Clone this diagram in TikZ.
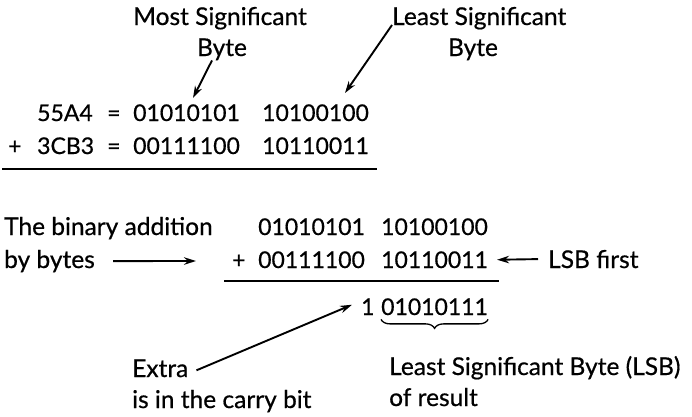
\documentclass[tikz,border=0pt]{standalone}
\usepackage{fontspec}
\setmainfont{Lato}[FakeBold=0.6]
\usetikzlibrary{arrows.meta,calc,decorations.pathreplacing}

\begin{document}
\begin{tikzpicture}[x=1pt,y=-1pt,
  lbl/.style={inner sep=0pt,anchor=base west,font=\fontsize{24.5}{30}\selectfont},
  num/.style={lbl,font=\fontsize{23}{28}\selectfont},
  arr/.style={-{Stealth[length=12pt,width=7.5pt]},line width=1.9pt},
  sumline/.style={line width=1.2pt}]
  \useasboundingbox (0,0) rectangle (692,416);
  % top: hex numbers and their bytes
  \node[lbl,anchor=base] (msbtop) at (220,25) {Most Significant};
  \node[lbl,anchor=base] (msbbyte) at (222,56) {Byte};
  \node[lbl] (lsbtop) at (392,25) {Least Significant};
  \node[lbl,anchor=base] (lsbbyte) at (473,56) {Byte};
  \node[num] (hexa) at (37,121) {55A4};
  \node[num] (eqa) at (107,121) {=};
  \node[num] (hia) at (133,121) {01010101};
  \node[num] (loa) at (262,121) {10100100};
  \node[num] (plusa) at (8,154) {+};
  \node[num] (hexb) at (37,154) {3CB3};
  \node[num] (eqb) at (107,154) {=};
  \node[num] (hib) at (133,154) {00111100};
  \node[num] (lob) at (262,154) {10110011};
  \coordinate (msbtip) at (193,98);
  \coordinate (lsbtip) at (345,93);
  \draw[arr] ([xshift=-10pt]msbbyte.south) -- (msbtip);
  \draw[arr] (lsbtop.base west) -- (lsbtip);
  \draw[sumline] (2,169) -- (377,169);
  % bottom: the addition byte by byte
  \node[lbl] (addtxt) at (4,235) {The binary addition};
  \node[lbl] (bytetxt) at (4,268) {by bytes};
  \node[num] (hic) at (258,235) {01010101};
  \node[num] (loc) at (381,235) {10100100};
  \node[num] (plusd) at (232,268) {+};
  \node[num] (hid) at (258,268) {00111100};
  \node[num] (lod) at (381,268) {10110011};
  \node[lbl] (lsbfirst) at (548,268) {LSB first};
  \coordinate (bytip) at (196,261);
  \draw[arr] ([xshift=18pt]bytetxt.east) -- (bytip);
  \draw[arr] ([xshift=-10pt]lsbfirst.west) -- ([xshift=9pt]lod.east);
  \draw[sumline] (224,281) -- (499,281);
  \node[num] (carry) at (361,315) {1};
  \node[num] (res) at (381,315) {01010111};
  \draw[line width=1.3pt,decorate,decoration={brace,mirror,amplitude=9pt}]
    ([yshift=-4pt]res.south west) -- ([yshift=-4pt]res.south east);
  \node[lbl] (extra) at (132,377) {Extra};
  \node[lbl] (carrytxt) at (132,408) {is in the carry bit};
  \node[lbl] (lsbtxt) at (389,375) {Least Significant Byte (LSB)};
  \node[lbl] (restxt) at (389,406) {of result};
  \draw[arr] ([xshift=8pt,yshift=-2pt]extra.east) -- ([xshift=-9pt,yshift=2pt]carry.west);
\end{tikzpicture}
\end{document}
